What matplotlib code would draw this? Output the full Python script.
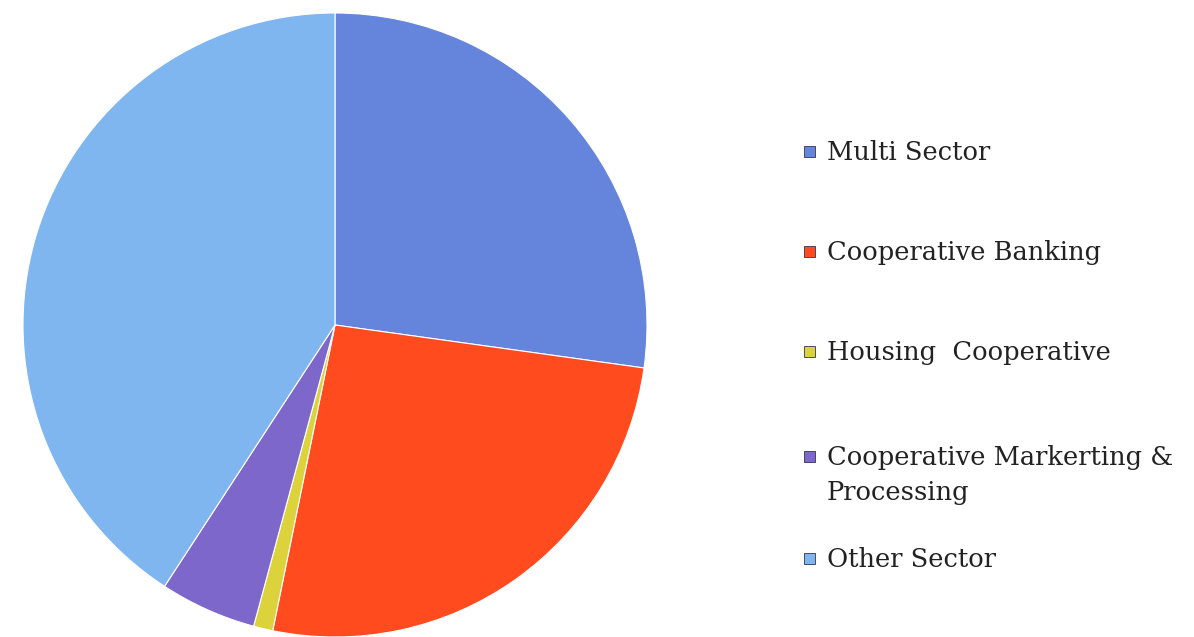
import matplotlib.pyplot as plt
from matplotlib.patches import Rectangle

# sector shares (%)
sectors = ['Multi Sector', 'Cooperative Banking', 'Housing  Cooperative',
           'Cooperative Markerting &\nProcessing', 'Other Sector']
shares = [27.2, 26.0, 1.0, 5.0, 40.8]
colors = ['#6585DD', '#FF4B1E', '#DCD23C', '#7E67CB', '#80B6EF']

fig = plt.figure(figsize=(11.94, 6.37), dpi=100)
W, H = 1194, 637

# pie centre approx (335, 325) px, radius 312 px
r = 312
ax = fig.add_axes([(335 - r) / W, (H - 325 - r) / H, 2 * r / W, 2 * r / H])
wedges, _ = ax.pie(shares, colors=colors, startangle=90, counterclock=False,
                   radius=1.0, wedgeprops=dict(edgecolor='white', linewidth=0.8))
ax.set_xlim(-1, 1)
ax.set_ylim(-1, 1)
ax.set_aspect('equal')
ax.axis('off')

# legend drawn by hand so the two-line label lines up like the original
first_lines = [160, 260, 360, 465, 567]   # baseline of first line, px from top
line_h = 35
for lab, col, yb in zip(sectors, colors, first_lines):
    nl = lab.count('\n')
    fig.text(827 / W, 1 - (yb + nl * line_h) / H, lab, family='DejaVu Serif',
             fontsize=18.5, color='#222222', va='baseline', ha='left',
             linespacing=1.5)
    fig.patches.append(Rectangle((804 / W, 1 - (yb - 3) / H), 11 / W, 11 / H,
                                 transform=fig.transFigure, facecolor=col,
                                 edgecolor='#333355', linewidth=0.6))

fig.savefig('out.png', dpi=100)
